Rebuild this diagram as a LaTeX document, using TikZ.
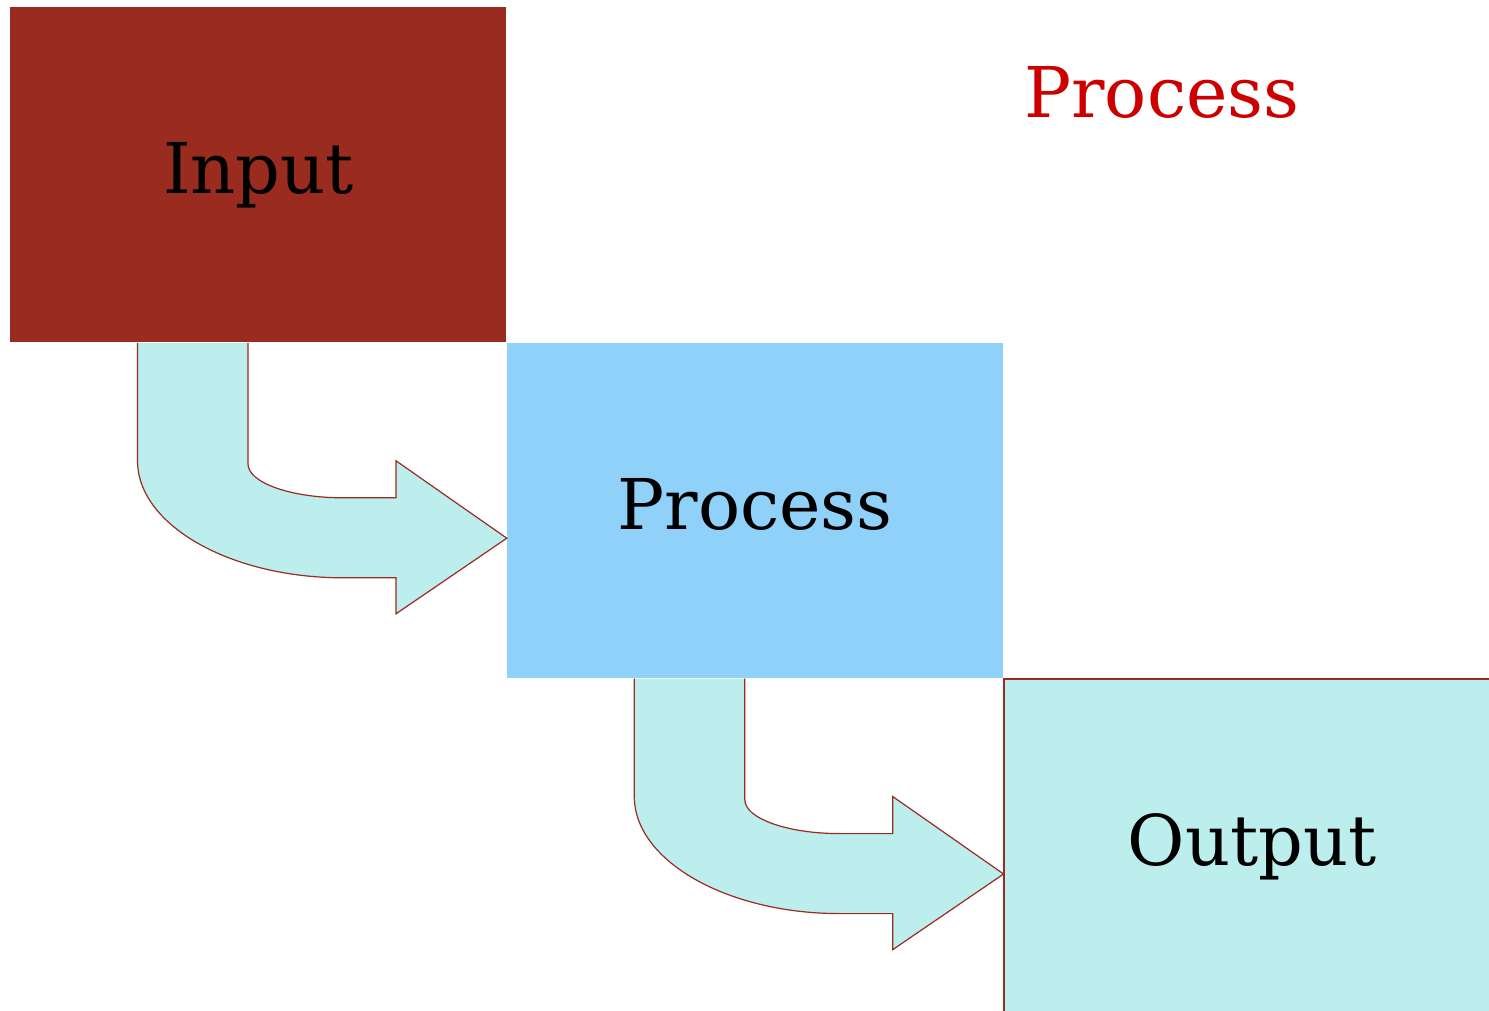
\documentclass[tikz,border=0pt]{standalone}
\usepackage{fontspec}
\setmainfont{DejaVu Serif}
\definecolor{inbrown}{HTML}{992B1F}
\definecolor{procblue}{HTML}{8FD1F9}
\definecolor{outcyan}{HTML}{BBEEED}
\definecolor{titlered}{HTML}{CC0000}

\begin{document}
\begin{tikzpicture}[
            x=0.5pt, y=-0.5pt,
            every node/.style={font=\fontsize{35}{40}\selectfont},
            box/.style={rectangle, anchor=north west, inner sep=0pt, minimum width=248pt, minimum height=167.5pt,
                text height=27pt, text depth=8pt},
            flow/.style={fill=outcyan, draw=inbrown, line width=0.6pt}
        ]
        \useasboundingbox (0,0) rectangle (1489,1011);

        % Boxes
        \node[box, fill=inbrown] (in) at (10,7) {Input};
        \node[box, fill=procblue] (proc) at (in.south east) {Process};
        \node[box, fill=outcyan] (out) at (proc.south east) {Output};
        \draw[inbrown, line width=0.9pt] (out.south west) -- (out.north west) -- (out.north east);
        \node[text=titlered] (title) at (1162,92) {Process};

        % Bent arrows
        \begin{scope}[shift={(in.south west)}]
        \path[flow] (127.5,0) -- (127.5,118) .. controls (127.5,182) and (220,235) .. (333,235)
            -- (386,235) -- (386,271) -- ([yshift=-13.75pt]proc.west) -- (386,118) -- (386,155) -- (333,155)
            .. controls (281,155) and (238,140) .. (238,121) -- (238,0);
        \end{scope}
        \begin{scope}[shift={(proc.south west)}]
        \path[flow] (127.5,0) -- (127.5,118) .. controls (127.5,182) and (220,235) .. (333,235)
            -- (386,235) -- (386,271) -- ([yshift=-13.75pt]out.west) -- (386,118) -- (386,155) -- (333,155)
            .. controls (281,155) and (238,140) .. (238,121) -- (238,0);
        \end{scope}

        \end{tikzpicture}
\end{document}
